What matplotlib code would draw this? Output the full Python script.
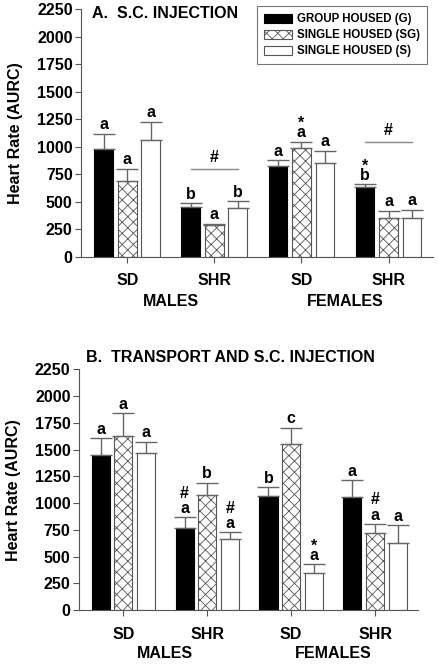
import numpy as np
import matplotlib
matplotlib.use("Agg")
import matplotlib.pyplot as plt

plt.rcParams["font.family"] = ["Liberation Sans", "DejaVu Sans"]
plt.rcParams["font.weight"] = "bold"
plt.rcParams["hatch.linewidth"] = 0.6

# --- datos --------------------------------------------------------------------
strains = ["SD", "SHR", "SD", "SHR"]
sexes = ["MALES", "FEMALES"]
series = ["GROUP HOUSED (G)", "SINGLE HOUSED (SG)", "SINGLE HOUSED (S)"]
yticks = [0, 250, 500, 750, 1000, 1250, 1500, 1750, 2000, 2250]

# Panel A: S.C. injection
a_g = [982, 452, 827, 633]
a_g_sem = [136, 33, 49, 25]
a_sg = [688, 285, 991, 348]
a_sg_sem = [112, 15, 54, 70]
a_s = [1058, 439, 848, 348]
a_s_sem = [169, 64, 116, 79]
a_labels = [
    [["a"], ["a"], ["a"]],
    [["b"], ["a"], ["b"]],
    [["a"], ["a", "*"], ["a"]],
    [["b", "*"], ["a"], ["a"]],
]
a_hash_lines = [(1, 800), (3, 1045)]  # (grupo, altura de la línea)

# Panel B: transport and S.C. injection
b_g = [1453, 764, 1063, 1054]
b_g_sem = [155, 103, 84, 159]
b_sg = [1624, 1072, 1549, 717]
b_sg_sem = [215, 119, 156, 87]
b_s = [1468, 664, 343, 623]
b_s_sem = [106, 62, 84, 172]
b_labels = [
    [["a"], ["a"], ["a"]],
    [["a", "#"], ["b"], ["a", "#"]],
    [["b"], ["c"], ["a", "*"]],
    [["a"], ["a", "#"], ["a"]],
]

EDGE = "#555555"
PITCH = 0.27
WIDTH = 0.215
FS = 11.5


def put_mark(ax, txt, x, y, dy, **kw):
    ax.annotate(txt, (x, y), xytext=(0, dy), textcoords="offset points",
                ha="center", va="bottom", fontsize=FS, fontweight="bold", **kw)


def put_stack(ax, items, x, y):
    """Letras de significancia apiladas (de abajo hacia arriba) sobre la barra."""
    if "*" in items:
        # el asterisco queda alto en la fuente: un solo texto con interlineado corto
        put_mark(ax, "\n".join(reversed(items)), x, y, 1.0, linespacing=0.55)
    else:
        for k, txt in enumerate(items):
            put_mark(ax, txt, x, y, 1.0 + 11 * k)


def draw_panel(ax, vals, sems, labels, title, title_xy, hash_lines=()):
    x = np.arange(len(strains))
    styles = [
        dict(color="black", edgecolor="black"),
        dict(color="white", edgecolor=EDGE, hatch="xxx"),
        dict(color="white", edgecolor=EDGE),
    ]
    for i, (v, e, st) in enumerate(zip(vals, sems, styles)):
        xi = x + (i - 1) * PITCH
        ax.bar(xi, v, WIDTH, yerr=[np.zeros(len(e)), e], linewidth=0.8,
               error_kw=dict(ecolor="#666666", elinewidth=1.0, capsize=8,
                             capthick=1.0),
               label=series[i], **st)
        for j in range(len(strains)):
            put_stack(ax, labels[j][i], xi[j], v[j] + e[j])
    for g, h in hash_lines:
        ax.plot([g - PITCH, g + PITCH], [h, h], color="#888888", lw=1.0)
        put_mark(ax, "#", g, h, 3)

    ax.set_ylim(0, 2250)
    ax.set_xlim(-0.53, 3.51)
    ax.set_yticks(yticks)
    ax.set_yticklabels([str(t) for t in yticks], fontsize=FS, fontweight="bold")
    ax.set_xticks(x)
    ax.set_xticklabels(strains, fontsize=FS, fontweight="bold")
    ax.tick_params(axis="both", length=4, width=0.8, color=EDGE, pad=2)
    ax.tick_params(axis="x", pad=8)
    ax.spines["top"].set_visible(False)
    ax.spines["right"].set_visible(False)
    ax.spines["left"].set_color(EDGE)
    ax.spines["bottom"].set_color(EDGE)
    ax.set_ylabel("Heart Rate (AURC)", fontsize=11.5, fontweight="bold",
                  labelpad=10)
    for s, xc in zip(sexes, [0.5, 2.5]):
        ax.text(xc, -0.18, s, transform=ax.get_xaxis_transform(), ha="center",
                va="center", fontsize=FS, fontweight="bold")
    ax.text(title_xy[0], title_xy[1], title, transform=ax.transAxes,
            ha="left", va="center", fontsize=FS, fontweight="bold")


fig = plt.figure(figsize=(4.38, 6.64), dpi=100)
ax_a = fig.add_axes([0.185, 0.6134, 0.8036, 0.3726])
ax_b = fig.add_axes([0.180, 0.0813, 0.774, 0.3625])

draw_panel(ax_a, [a_g, a_sg, a_s], [a_g_sem, a_sg_sem, a_s_sem], a_labels,
           "A.  S.C. INJECTION", (0.03, 0.985), a_hash_lines)
draw_panel(ax_b, [b_g, b_sg, b_s], [b_g_sem, b_sg_sem, b_s_sem], b_labels,
           "B.  TRANSPORT AND S.C. INJECTION", (0.02, 1.05))

leg = ax_a.legend(loc="upper right", bbox_to_anchor=(1.0, 1.035), fontsize=8.3,
                  frameon=True, fancybox=False, edgecolor=EDGE,
                  handlelength=2.4, handleheight=0.8, borderpad=0.6,
                  labelspacing=0.35, handletextpad=0.5)
leg.get_frame().set_linewidth(0.8)

fig.savefig("out.png", dpi=100)
